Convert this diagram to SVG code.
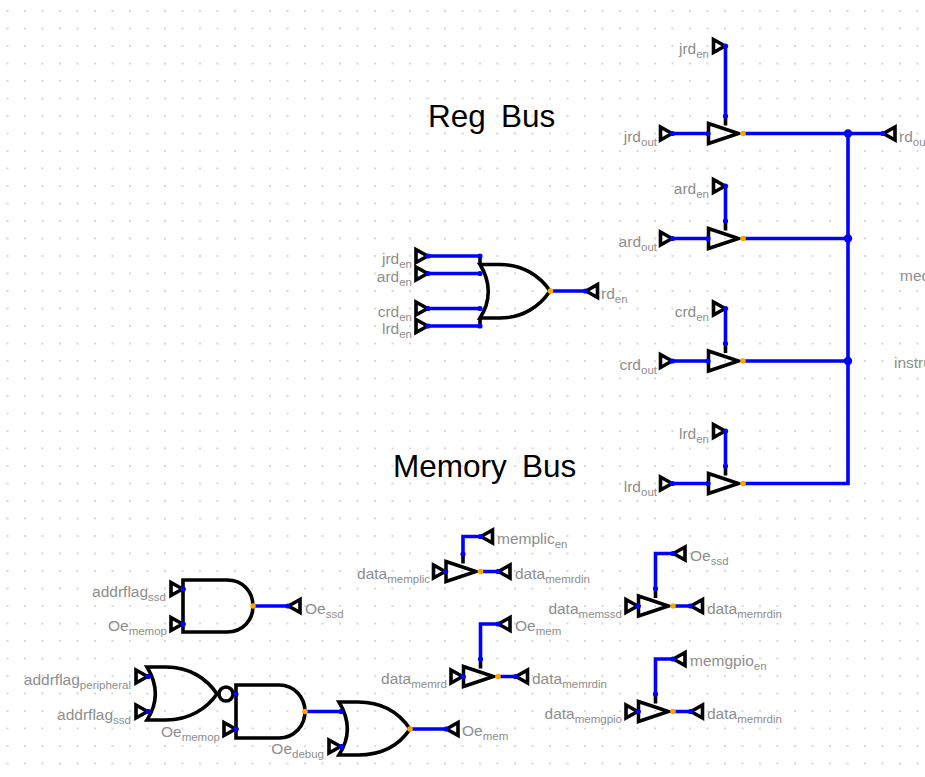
<svg xmlns="http://www.w3.org/2000/svg" width="925" height="777" viewBox="0 0 925 777">
<style>
text{font-family:"Liberation Sans",Arial,sans-serif}
.t{font-size:31.5px;fill:#000;word-spacing:6.5px}
.l{font-size:15.5px;fill:#8e8e8e}
.l tspan{font-size:11.5px}
.w{fill:none;stroke:#00f;stroke-width:3.6;stroke-linejoin:miter}
.g{fill:none;stroke:#000;stroke-width:3.5;stroke-linejoin:miter}
.s{fill:none;stroke:#000;stroke-width:3.6}
.p{fill:none;stroke:#000;stroke-width:3.6;stroke-linejoin:miter}
.i{fill:#00f}
.o{fill:#ffa500}
.j{fill:#00f}
</style>
<defs>
<pattern id="grid" x="6.500" y="10" width="17.500" height="17.500" patternUnits="userSpaceOnUse"><rect width="2" height="2" fill="#d8d8d8"/></pattern>
<g id="pr"><path class="p" d="M-12,-6.500V6.500L-0.500,0Z"/><circle class="i" cx="0" cy="0" r="2.600"/></g>
<g id="pl"><path class="p" d="M12,-6.500V6.500L0.500,0Z"/><circle class="i" cx="0" cy="0" r="2.600"/></g>
<g id="buf"><path class="s" d="M17.500,-8V-17.500"/><path class="g" d="M0.500,-10V10L30.500,0Z"/><circle class="i" cx="0" cy="0" r="2.600"/><circle class="i" cx="17.500" cy="-17.500" r="2.600"/><circle class="o" cx="35" cy="0" r="2.800"/></g>
</defs>
<rect width="925" height="777" fill="#fff"/>
<rect width="925" height="777" fill="url(#grid)"/>
<text class="t" x="428" y="127">Reg Bus</text>
<text class="t" x="393" y="477">Memory Bus</text>
<g id="connectors">
<path class="w" d="M725.500,46V116M672.500,133.500H708M743,133.500H883M725.500,186V221M672.500,238.500H708M743,238.500H848M725.500,308.500V343.500M672.500,361H708M743,361H848M725.500,431V466M672.500,483.500H708M743,483.500H848V133.500"/>
<path class="w" d="M428,256H480M428,273.500H480M428,308.500H480M428,326H480M550.500,291H585.500"/>
<path class="w" d="M253,606H288M305,711.500H341M410,729H446"/>
<path class="w" d="M463,554V536.500H480.500M480,571.500H498M480.500,659V624H498M498,676.500H515.500M655.500,589V553.500H673M673,606H690.500M655.500,694V659H673M673,711.500H690.500"/>
<circle class="j" cx="848" cy="133.500" r="4.200"/><circle class="j" cx="848" cy="238.500" r="4.200"/><circle class="j" cx="848" cy="361" r="4.200"/>
</g>
<g id="buf-jrd"><use href="#buf" x="708" y="133.500"/></g>
<g id="buf-ard"><use href="#buf" x="708" y="238.500"/></g>
<g id="buf-crd"><use href="#buf" x="708" y="361"/></g>
<g id="buf-lrd"><use href="#buf" x="708" y="483.500"/></g>
<g id="buf-memplic"><use href="#buf" x="445.500" y="571.500"/></g>
<g id="buf-memrd"><use href="#buf" x="463" y="676.500"/></g>
<g id="buf-memssd"><use href="#buf" x="638" y="606"/></g>
<g id="buf-memgpio"><use href="#buf" x="638" y="711.500"/></g>
<g id="pin-jrd-en"><use href="#pr" x="725.500" y="46"/><text class="l" x="709" y="54" text-anchor="end">jrd<tspan dy="4">en</tspan></text></g>
<g id="pin-jrd-out"><use href="#pr" x="672.500" y="133.500"/><text class="l" x="657" y="142" text-anchor="end">jrd<tspan dy="4">out</tspan></text></g>
<g id="pin-rd-out"><use href="#pl" x="883" y="133.500"/><text class="l" x="899" y="142">rd<tspan dy="4">out</tspan></text></g>
<g id="pin-ard-en"><use href="#pr" x="725.500" y="186"/><text class="l" x="709" y="194" text-anchor="end">ard<tspan dy="4">en</tspan></text></g>
<g id="pin-ard-out"><use href="#pr" x="672.500" y="238.500"/><text class="l" x="657" y="247" text-anchor="end">ard<tspan dy="4">out</tspan></text></g>
<g id="pin-crd-en"><use href="#pr" x="725.500" y="308.500"/><text class="l" x="709" y="317" text-anchor="end">crd<tspan dy="4">en</tspan></text></g>
<g id="pin-crd-out"><use href="#pr" x="672.500" y="361"/><text class="l" x="657" y="370" text-anchor="end">crd<tspan dy="4">out</tspan></text></g>
<g id="pin-lrd-en"><use href="#pr" x="725.500" y="431"/><text class="l" x="709" y="439" text-anchor="end">lrd<tspan dy="4">en</tspan></text></g>
<g id="pin-lrd-out"><use href="#pr" x="672.500" y="483.500"/><text class="l" x="657" y="492" text-anchor="end">lrd<tspan dy="4">out</tspan></text></g>
<g id="label-med"><text class="l" x="900" y="281">med</text></g>
<g id="label-instru"><text class="l" x="894" y="368">instru</text></g>
<g id="or-rd">
<path class="s" d="M480,256V265M480,326V318"/>
<path class="s" d="M480,264.500H500C523,264.500 540,276 550,291C540,306 523,318 500,318H480C491,301 491,282 480,264.500Z"/>
<circle class="i" cx="480" cy="256" r="2.600"/><circle class="i" cx="480" cy="273.500" r="2.600"/><circle class="i" cx="480" cy="308.500" r="2.600"/><circle class="i" cx="480" cy="326" r="2.600"/><circle class="o" cx="550.500" cy="291" r="2.800"/>
</g>
<g id="pin-or-jrd"><use href="#pr" x="428" y="256"/><text class="l" x="412" y="264" text-anchor="end">jrd<tspan dy="4">en</tspan></text></g>
<g id="pin-or-ard"><use href="#pr" x="428" y="273.500"/><text class="l" x="412" y="282" text-anchor="end">ard<tspan dy="4">en</tspan></text></g>
<g id="pin-or-crd"><use href="#pr" x="428" y="308.500"/><text class="l" x="412" y="316.500" text-anchor="end">crd<tspan dy="4">en</tspan></text></g>
<g id="pin-or-lrd"><use href="#pr" x="428" y="326"/><text class="l" x="412" y="334" text-anchor="end">lrd<tspan dy="4">en</tspan></text></g>
<g id="pin-rd-en"><use href="#pl" x="585.500" y="291"/><text class="l" x="601" y="299">rd<tspan dy="4">en</tspan></text></g>
<g id="and-ssd">
<path class="s" d="M183,580H227C243,580 253,592 253,606C253,620 243,632 227,632H183Z"/>
<circle class="i" cx="183" cy="589" r="2.600"/><circle class="i" cx="183" cy="624" r="2.600"/><circle class="o" cx="253" cy="606" r="2.800"/>
</g>
<g id="pin-addr-ssd"><use href="#pr" x="183" y="589"/><text class="l" x="166" y="597" text-anchor="end">addrflag<tspan dy="4">ssd</tspan></text></g>
<g id="pin-oe-memop"><use href="#pr" x="183" y="624"/><text class="l" x="167" y="631" text-anchor="end">Oe<tspan dy="4">memop</tspan></text></g>
<g id="pin-oe-ssd"><use href="#pl" x="288" y="606"/><text class="l" x="305" y="614">Oe<tspan dy="4">ssd</tspan></text></g>
<g id="nor">
<path class="s" d="M147,667H166C190,667 207,679 217,694C207,708 190,720 166,720H147C158,703 158,685 147,667Z"/>
<circle class="s" cx="226" cy="694" r="7"/>
<circle class="i" cx="148" cy="676.500" r="2.600"/><circle class="i" cx="148" cy="711.500" r="2.600"/>
</g>
<g id="pin-addr-per"><use href="#pr" x="148" y="676.500"/><text class="l" x="131" y="685" text-anchor="end">addrflag<tspan dy="4">peripheral</tspan></text></g>
<g id="pin-addr-ssd2"><use href="#pr" x="148" y="711.500"/><text class="l" x="131" y="720" text-anchor="end">addrflag<tspan dy="4">ssd</tspan></text></g>
<g id="and-debug">
<path class="s" d="M236,685H279C295,685 305,698 305,711.500C305,725 295,738 279,738H236Z"/>
<circle class="i" cx="236" cy="694" r="2.600"/><circle class="i" cx="236" cy="729" r="2.600"/><circle class="o" cx="305" cy="711.500" r="2.800"/>
</g>
<g id="pin-oe-memop2"><use href="#pr" x="236" y="729"/><text class="l" x="220" y="736.500" text-anchor="end">Oe<tspan dy="4">memop</tspan></text></g>
<g id="or-mem">
<path class="s" d="M339,702H358C383,702 400,714 410,729C400,744 383,755 358,755H339C350,738 350,720 339,702Z"/>
<circle class="i" cx="341" cy="711.500" r="2.600"/><circle class="i" cx="341" cy="746.500" r="2.600"/><circle class="o" cx="410" cy="729" r="2.800"/>
</g>
<g id="pin-oe-debug"><use href="#pr" x="341" y="746.500"/><text class="l" x="324" y="754" text-anchor="end">Oe<tspan dy="4">debug</tspan></text></g>
<g id="pin-oe-mem"><use href="#pl" x="446" y="729"/><text class="l" x="462" y="736">Oe<tspan dy="4">mem</tspan></text></g>
<g id="pin-memplic-en"><use href="#pl" x="480.500" y="536.500"/><text class="l" x="497" y="544">memplic<tspan dy="4">en</tspan></text></g>
<g id="pin-data-memplic"><use href="#pr" x="445.500" y="571.500"/><text class="l" x="430" y="579" text-anchor="end">data<tspan dy="4">memplic</tspan></text></g>
<g id="pin-din1"><use href="#pl" x="498" y="571.500"/><text class="l" x="515" y="579">data<tspan dy="4">memrdin</tspan></text></g>
<g id="pin-oe-mem2"><use href="#pl" x="498" y="624"/><text class="l" x="515" y="631">Oe<tspan dy="4">mem</tspan></text></g>
<g id="pin-data-memrd"><use href="#pr" x="463" y="676.500"/><text class="l" x="447" y="684" text-anchor="end">data<tspan dy="4">memrd</tspan></text></g>
<g id="pin-din2"><use href="#pl" x="515.500" y="676.500"/><text class="l" x="532" y="684">data<tspan dy="4">memrdin</tspan></text></g>
<g id="pin-oe-ssd2"><use href="#pl" x="673" y="553.500"/><text class="l" x="690" y="561">Oe<tspan dy="4">ssd</tspan></text></g>
<g id="pin-data-memssd"><use href="#pr" x="638" y="606"/><text class="l" x="622" y="614" text-anchor="end">data<tspan dy="4">memssd</tspan></text></g>
<g id="pin-din3"><use href="#pl" x="690.500" y="606"/><text class="l" x="707" y="614">data<tspan dy="4">memrdin</tspan></text></g>
<g id="pin-memgpio-en"><use href="#pl" x="673" y="659"/><text class="l" x="690" y="666">memgpio<tspan dy="4">en</tspan></text></g>
<g id="pin-data-memgpio"><use href="#pr" x="638" y="711.500"/><text class="l" x="622" y="719" text-anchor="end">data<tspan dy="4">memgpio</tspan></text></g>
<g id="pin-din4"><use href="#pl" x="690.500" y="711.500"/><text class="l" x="707" y="719">data<tspan dy="4">memrdin</tspan></text></g>
</svg>
